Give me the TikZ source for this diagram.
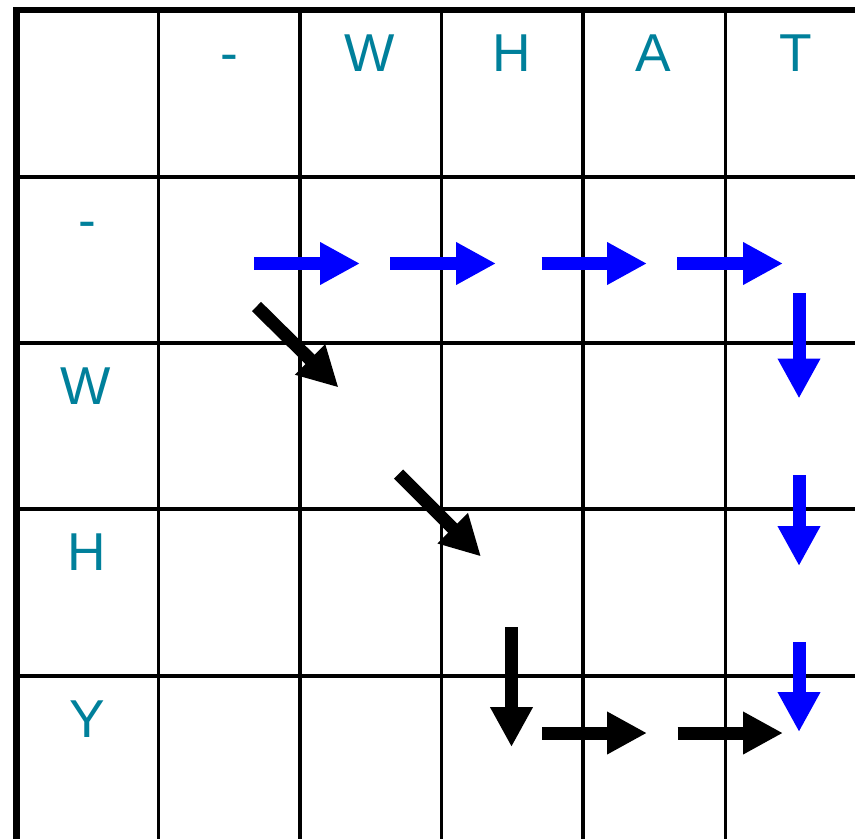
\documentclass[tikz,border=0pt]{standalone}
\usepackage{fontspec}
\setmainfont{Liberation Sans}
\usepackage{xcolor}
\usetikzlibrary{arrows.meta}

\definecolor{labelteal}{RGB}{0,128,155}

\begin{document}
\begin{tikzpicture}[x=0.75pt,y=-0.75pt,
	lbl/.style={anchor=base,text=labelteal,inner sep=0pt,font=\fontsize{40}{48}\selectfont},
	flow/.style={line width=9.75pt,-{Triangle[length=30pt,width=30pt]}}]
		\useasboundingbox (0,0) rectangle (855,839);
		% grid
		\foreach \x in {158.5,300,441.5,583,725.5}
			\draw[line width=2.5pt] (\x,10) -- (\x,839);
		\foreach \y in {177,343,509,676}
			\draw[line width=2.5pt] (16.5,\y) -- (855,\y);
		\draw[line width=4.5pt] (13,10) -- (855,10);
		\draw[line width=5.25pt] (16.5,7) -- (16.5,839);
		%
		% column and row labels
		\node[lbl] (c0) at (229,71) {-};
		\node[lbl] (c1) at (370,71) {W};
		\node[lbl] (c2) at (511.5,71) {H};
		\node[lbl] (c3) at (653.5,71) {A};
		\node[lbl] (c4) at (795.5,71) {T};
		\node[lbl] (r0) at (87,238) {-};
		\node[lbl] (r1) at (86,404) {W};
		\node[lbl] (r2) at (87,570) {H};
		\node[lbl] (r3) at (87,737) {Y};
		%
		% arrow ends
		\coordinate (h1) at (254,263.5);
		\coordinate (h1') at (360,263.5);
		\coordinate (h2) at (390,263.5);
		\coordinate (h2') at (496,263.5);
		\coordinate (h3) at (541.5,263.5);
		\coordinate (h3') at (647,263.5);
		\coordinate (h4) at (677,263.5);
		\coordinate (h4') at (783,263.5);
		\coordinate (v1) at (799,293);
		\coordinate (v1') at (799,398.5);
		\coordinate (v2) at (799,475);
		\coordinate (v2') at (799,566);
		\coordinate (v3) at (799,642);
		\coordinate (v3') at (799,732);
		\coordinate (d1) at (256.5,306.5);
		\coordinate (d1') at (338.5,387.5);
		\coordinate (d2) at (398.5,474);
		\coordinate (d2') at (481,556.5);
		\coordinate (e1) at (511.5,627);
		\coordinate (e1') at (511.5,747);
		\coordinate (e2) at (542,733);
		\coordinate (e2') at (647,733);
		\coordinate (e3) at (677.5,733);
		\coordinate (e3') at (783,733);
		%
		\path[flow,blue]
		% top row
		(h1) edge (h1')
		(h2) edge (h2')
		(h3) edge (h3')
		(h4) edge (h4')
		% last column
		(v1) edge (v1')
		(v2) edge (v2')
		(v3) edge (v3');
		%
		\path[flow,black]
		(d1) edge (d1')
		(d2) edge (d2')
		(e1) edge (e1')
		(e2) edge (e2')
		(e3) edge (e3');
		\end{tikzpicture}
\end{document}
